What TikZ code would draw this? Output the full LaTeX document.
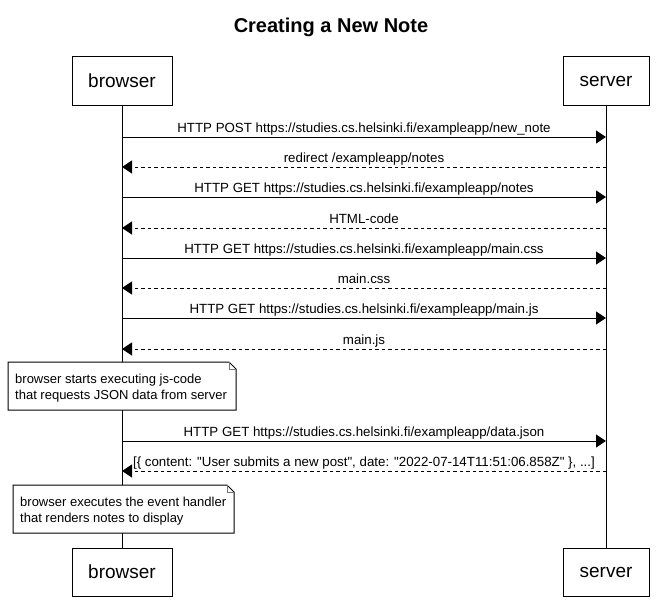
\documentclass[tikz,border=0pt]{standalone}
\usepackage{fontspec}
\setmainfont{Liberation Sans}
\usetikzlibrary{arrows.meta}
\begin{document}
\begin{tikzpicture}[x=1pt,y=-1pt,
  actor/.style={draw=black,line width=1pt,fill=white,minimum height=48pt,inner sep=0pt,
    font=\fontsize{19}{23}\selectfont},
  life/.style={line width=1pt},
  call/.style={line width=1pt,-{Triangle[length=10pt,width=13pt]}},
  reply/.style={call,dash pattern=on 3.5pt off 3pt},
  msglabel/.style={font=\fontsize{13.3}{16}\selectfont,inner sep=0pt,anchor=base,yshift=4.5pt},
  notebox/.style={draw=black,line width=1pt,fill=white},
  notefold/.style={draw=black!55,line width=0.8pt},
  notetext/.style={font=\fontsize{13}{16}\selectfont,align=left,inner sep=0pt,anchor=north west},
]
\useasboundingbox[fill=white] (0,0) rectangle (659,602);

% title
\node[font=\fontsize{20}{24}\selectfont\bfseries,anchor=base] (title) at (331,33) {Creating a New Note};

% participants, top and bottom
\node[actor,minimum width=100pt] (bt) at (122,81) {browser};
\node[actor,minimum width=86pt]  (st) at (606,81) {server};
\node[actor,minimum width=100pt] (bb) at (122,572) {browser};
\node[actor,minimum width=86pt]  (sb) at (606,572) {server};

% lifelines
\draw[life] (bt.south) -- (bb.north);
\draw[life] (st.south) -- (sb.north);

% message rows on both lifelines
\foreach \i/\y in {1/137,2/167,3/197,4/228,5/258,6/288,7/318,8/349,9/441,10/471} {
  \coordinate (b\i) at (bt.south |- 0,\y);
  \coordinate (s\i) at (st.south |- 0,\y);
}

\draw[call]  (b1) -- node[msglabel] {HTTP POST https://studies.cs.helsinki.fi/exampleapp/new\_note} (s1);
\draw[reply] (s2) -- node[msglabel] {redirect /exampleapp/notes} (b2);
\draw[call]  (b3) -- node[msglabel] {HTTP GET https://studies.cs.helsinki.fi/exampleapp/notes} (s3);
\draw[reply] (s4) -- node[msglabel] {HTML-code} (b4);
\draw[call]  (b5) -- node[msglabel] {HTTP GET https://studies.cs.helsinki.fi/exampleapp/main.css} (s5);
\draw[reply] (s6) -- node[msglabel] {main.css} (b6);
\draw[call]  (b7) -- node[msglabel] {HTTP GET https://studies.cs.helsinki.fi/exampleapp/main.js} (s7);
\draw[reply] (s8) -- node[msglabel] {main.js} (b8);

% note over the browser
\draw[notebox] (8,362) -- (229,362) -- (236,369) -- (236,410) -- (8,410) -- cycle;
\draw[notefold] (229,362) -- (229,369) -- (236,369);
\node[notetext] (note1) at (15,374) {browser starts executing js-code\\that requests JSON data from server};

\draw[call]  (b9) -- node[msglabel] {HTTP GET https://studies.cs.helsinki.fi/exampleapp/data.json} (s9);
\draw[reply] (s10) -- node[msglabel] {[\{ content: \textquotedbl User submits a new post\textquotedbl, date: \textquotedbl 2022-07-14T11:51:06.858Z\textquotedbl\ \}, ...]} (b10);

% note after the data arrives
\draw[notebox] (13,485) -- (227,485) -- (234,492) -- (234,533) -- (13,533) -- cycle;
\draw[notefold] (227,485) -- (227,492) -- (234,492);
\node[notetext] (note2) at (20,497) {browser executes the event handler\\that renders notes to display};
\end{tikzpicture}
\end{document}
